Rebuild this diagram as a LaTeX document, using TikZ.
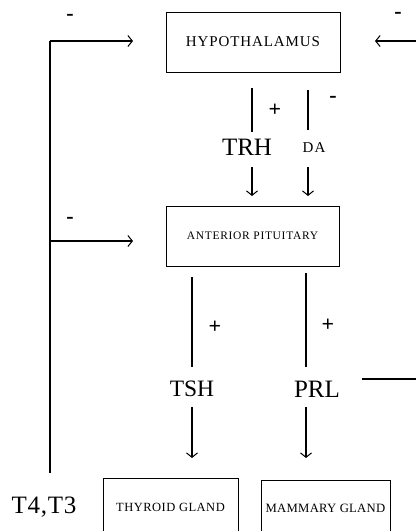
\documentclass[tikz,border=0pt]{standalone}
\usepackage{fontspec}
\setmainfont{Liberation Serif}
\usetikzlibrary{arrows.meta}
\begin{document}
\begin{tikzpicture}[x=1pt,y=-1pt,
  organ/.style={draw,line width=0.9pt,inner sep=0pt,font=\fontsize{15}{17}\selectfont\addfontfeatures{LetterSpace=6}},
  big/.style={inner sep=0pt,font=\fontsize{25}{27}\selectfont},
  sign/.style={inner sep=0pt,font=\fontsize{22}{24}\selectfont\bfseries},
  minus/.style={inner sep=0pt,font=\fontsize{22}{24}\selectfont\bfseries},
  conn/.style={line width=1.1pt},
  arr/.style={conn,-{Straight Barb[length=4.5pt,width=11pt,line width=1pt]}}]
\useasboundingbox (0,0) rectangle (416,531);
\clip (0,0) rectangle (416,531);
% boxes
\node[organ,minimum width=174pt,minimum height=60pt] (hyp) at (253,42) {HYPOTHALAMUS};
\node[organ,minimum width=173pt,minimum height=60pt,font=\fontsize{11.5}{13}\selectfont\addfontfeatures{LetterSpace=6}] (pit) at (252.5,236) {ANTERIOR PITUITARY};
\node[organ,minimum width=135pt,minimum height=58pt,font=\fontsize{12.5}{14}\selectfont\addfontfeatures{LetterSpace=4}] (thy) at (170.5,507) {THYROID GLAND};
\node[organ,minimum width=129pt,minimum height=56pt,font=\fontsize{12.7}{14}\selectfont\addfontfeatures{LetterSpace=2}] (mam) at (325.5,508) {MAMMARY GLAND};
% hormone labels
\node[big] (trh) at (247,147) {TRH};
\node[inner sep=0pt,font=\fontsize{15}{16}\selectfont\addfontfeatures{LetterSpace=8}] (da) at (314,148) {DA};
\node[big,font=\fontsize{23.5}{26}\selectfont] (tsh) at (192,389) {TSH};
\node[big] (prl) at (317,389) {PRL};
\node[big,font=\fontsize{25}{27}\selectfont\addfontfeatures{LetterSpace=3}] (t43) at (44,507) {T4,T3};
% signs
\node[minus] (s1) at (70,17) {-};
\node[minus] (s2) at (398,15) {-};
\node[sign] (s3) at (275,110) {+};
\node[minus] (s4) at (333,99) {-};
\node[minus] (s5) at (70,220) {-};
\node[sign] (s6) at (215,327) {+};
\node[sign] (s7) at (328,325) {+};
% coordinates
\coordinate (fbb) at (50,473);
\coordinate (fbt) at (50,41);
\coordinate (fbm) at (50,241);
\coordinate (ha) at (133,41);
\coordinate (pa) at (133,241);
\coordinate (re) at (416,41);
\coordinate (ra) at (375,41);
\coordinate (trh1) at (252,88);
\coordinate (trh2) at (252,132);
\coordinate (trh3) at (252,167);
\coordinate (trh4) at (252,196);
\coordinate (da1) at (308,90);
\coordinate (da2) at (308,130);
\coordinate (da3) at (308,167);
\coordinate (da4) at (308,196);
\coordinate (tsh1) at (192,277);
\coordinate (tsh2) at (192,367);
\coordinate (tsh3) at (192,407);
\coordinate (tsh4) at (192,458);
\coordinate (prl1) at (306,273);
\coordinate (prl2) at (306,367);
\coordinate (prl3) at (306,407);
\coordinate (prl4) at (306,458);
\coordinate (pr1) at (362,379);
\coordinate (pr2) at (416,379);
% connectors
\draw[conn] (fbb) -- (fbt);
\draw[arr] (fbt) -- (ha);
\draw[arr] (fbm) -- (pa);
\draw[arr] (re) -- (ra);
\draw[conn] (trh1) -- (trh2);
\draw[arr] (trh3) -- (trh4);
\draw[conn] (da1) -- (da2);
\draw[arr] (da3) -- (da4);
\draw[conn] (tsh1) -- (tsh2);
\draw[arr] (tsh3) -- (tsh4);
\draw[conn] (prl1) -- (prl2);
\draw[arr] (prl3) -- (prl4);
\draw[conn] (pr1) -- (pr2);
\end{tikzpicture}
\end{document}
